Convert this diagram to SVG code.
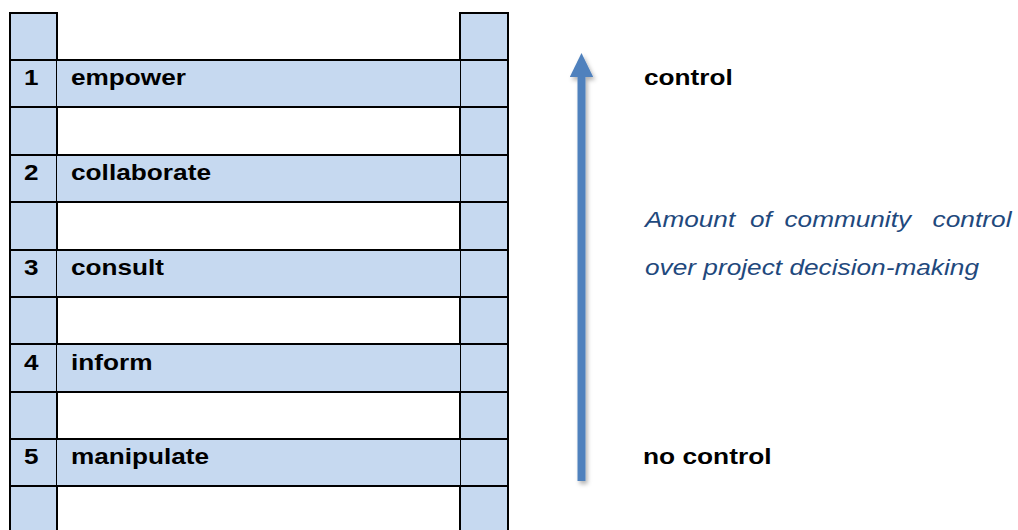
<svg xmlns="http://www.w3.org/2000/svg" width="1018" height="530" viewBox="0 0 1018 530">
  <style>
    .fill{fill:#C6D9F0}
    .rule{stroke:#000;stroke-width:2;fill:none}
    .lbl{font-family:"Liberation Sans",Arial,sans-serif;font-weight:bold;font-size:22px;fill:#000}
    .note{font-family:"Liberation Sans",Arial,sans-serif;font-style:italic;font-size:22px;fill:#1F497D}
  </style>
  <defs>
    <filter id="soft-shadow" filterUnits="userSpaceOnUse" x="550" y="40" width="70" height="470">
      <feDropShadow dx="2" dy="3" stdDeviation="2" flood-color="#000" flood-opacity="0.3"/>
    </filter>
    <marker id="head" markerUnits="userSpaceOnUse" markerWidth="24" markerHeight="24" viewBox="0 0 24 24" refX="0" refY="11.7" orient="auto">
      <path d="M0,0 L24,11.7 L0,23.4 Z" fill="#4F81BD"/>
    </marker>
  </defs>

  <rect width="1018" height="530" fill="#fff"/>

  <!-- ladder rails -->
  <g id="rail-left">
    <rect class="fill" x="10" y="13" width="47" height="517"/>
    <path class="rule" d="M10,12 V530 M57,12 V530 M9,13 H58"/>
  </g>
  <g id="rail-right">
    <rect class="fill" x="460" y="13" width="48" height="517"/>
    <path class="rule" d="M460,12 V530 M508,12 V530 M459,13 H509"/>
  </g>

  <!-- rungs, top to bottom -->
  <g id="rung-1">
    <rect class="fill" x="57" y="60" width="403" height="47"/>
    <path class="rule" d="M9,60 H509 M9,107 H509"/>
    <text class="lbl" x="24" y="85" textLength="14.5" lengthAdjust="spacingAndGlyphs">1</text>
    <text class="lbl" x="71" y="85" textLength="115" lengthAdjust="spacingAndGlyphs">empower</text>
  </g>
  <g id="rung-2">
    <rect class="fill" x="57" y="155" width="403" height="47"/>
    <path class="rule" d="M9,155 H509 M9,202 H509"/>
    <text class="lbl" x="24" y="180" textLength="14.5" lengthAdjust="spacingAndGlyphs">2</text>
    <text class="lbl" x="71" y="180" textLength="140" lengthAdjust="spacingAndGlyphs">collaborate</text>
  </g>
  <g id="rung-3">
    <rect class="fill" x="57" y="250" width="403" height="47"/>
    <path class="rule" d="M9,250 H509 M9,297 H509"/>
    <text class="lbl" x="24" y="275" textLength="14.5" lengthAdjust="spacingAndGlyphs">3</text>
    <text class="lbl" x="71" y="275" textLength="93" lengthAdjust="spacingAndGlyphs">consult</text>
  </g>
  <g id="rung-4">
    <rect class="fill" x="57" y="344" width="403" height="48"/>
    <path class="rule" d="M9,344 H509 M9,392 H509"/>
    <text class="lbl" x="24" y="369.5" textLength="14.5" lengthAdjust="spacingAndGlyphs">4</text>
    <text class="lbl" x="71" y="369.5" textLength="81.5" lengthAdjust="spacingAndGlyphs">inform</text>
  </g>
  <g id="rung-5">
    <rect class="fill" x="57" y="439" width="403" height="47"/>
    <path class="rule" d="M9,439 H509 M9,486 H509"/>
    <text class="lbl" x="24" y="464" textLength="14.5" lengthAdjust="spacingAndGlyphs">5</text>
    <text class="lbl" x="71" y="464" textLength="138" lengthAdjust="spacingAndGlyphs">manipulate</text>
  </g>

  <!-- upward scale arrow -->
  <g id="connectors" filter="url(#soft-shadow)">
    <line x1="581.5" y1="481" x2="581.5" y2="77" stroke="#4F81BD" stroke-width="8" marker-end="url(#head)"/>
  </g>

  <!-- scale end labels and caption -->
  <g id="scale-top">
    <text class="lbl" x="644" y="85" textLength="88.7" lengthAdjust="spacingAndGlyphs">control</text>
  </g>
  <g id="scale-bottom">
    <text class="lbl" x="643" y="464" textLength="128.5" lengthAdjust="spacingAndGlyphs">no control</text>
  </g>
  <g id="caption">
    <text class="note" y="227">
      <tspan x="645" textLength="90.2" lengthAdjust="spacingAndGlyphs">Amount</tspan>
      <tspan x="750" textLength="21.8" lengthAdjust="spacingAndGlyphs">of</tspan>
      <tspan x="784.5" textLength="126.5" lengthAdjust="spacingAndGlyphs">community</tspan>
      <tspan x="932.5" textLength="79" lengthAdjust="spacingAndGlyphs">control</tspan>
    </text>
    <text class="note" x="645" y="275" textLength="334" lengthAdjust="spacingAndGlyphs">over project decision-making</text>
  </g>
</svg>
